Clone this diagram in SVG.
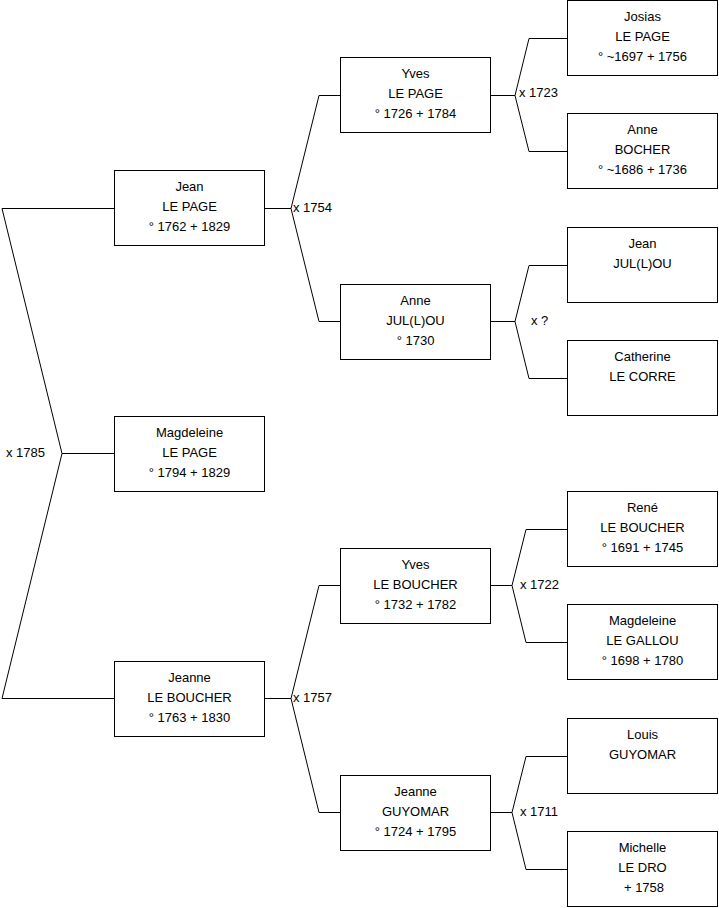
<svg xmlns="http://www.w3.org/2000/svg" width="719" height="908" viewBox="0 0 719 908">
<style>
.box{fill:#fff;stroke:#000;stroke-width:1}
.ln{fill:none;stroke:#000;stroke-width:1}
text{font-family:"Liberation Sans",Arial,sans-serif;font-size:13px;fill:#000}
.c{text-anchor:middle}
</style>
<rect width="719" height="908" fill="#fff"/>
<g id="connectors">
<polyline class="ln" points="114,208.5 2,208.5 62,453.5 2,698.5 114,698.5"/>
<line class="ln" x1="62" y1="453.5" x2="114" y2="453.5"/>
<line class="ln" x1="265" y1="208.5" x2="291" y2="208.5"/>
<polyline class="ln" points="340,95.5 319,95.5 291,208.5 319,321.5 340,321.5"/>
<line class="ln" x1="265" y1="698.5" x2="291" y2="698.5"/>
<polyline class="ln" points="340,585.5 319,585.5 291,698.5 319,812.5 340,812.5"/>
<line class="ln" x1="491" y1="95.5" x2="515" y2="95.5"/>
<polyline class="ln" points="567,38.5 529,38.5 515,95.5 529,151.5 567,151.5"/>
<line class="ln" x1="491" y1="321.5" x2="515" y2="321.5"/>
<polyline class="ln" points="567,265.5 529,265.5 515,321.5 529,378.5 567,378.5"/>
<line class="ln" x1="491" y1="585.5" x2="512" y2="585.5"/>
<polyline class="ln" points="567,529.5 526,529.5 512,585.5 526,642.5 567,642.5"/>
<line class="ln" x1="491" y1="812.5" x2="512" y2="812.5"/>
<polyline class="ln" points="567,756.5 526,756.5 512,812.5 526,869.5 567,869.5"/>
<text x="6" y="457">x 1785</text>
<text x="293" y="212">x 1754</text>
<text x="293" y="702">x 1757</text>
<text x="519" y="97">x 1723</text>
<text x="531" y="325">x ?</text>
<text x="520" y="589">x 1722</text>
<text x="520" y="816">x 1711</text>
</g>
<g id="jean">
<rect class="box" x="114.5" y="170.5" width="150" height="75"/>
<text class="c" x="189.5" y="191">Jean</text><text class="c" x="189.5" y="211">LE PAGE</text><text class="c" x="189.5" y="231">° 1762 + 1829</text>
</g>
<g id="magdeleine">
<rect class="box" x="114.5" y="416.5" width="150" height="75"/>
<text class="c" x="189.5" y="437">Magdeleine</text><text class="c" x="189.5" y="457">LE PAGE</text><text class="c" x="189.5" y="477">° 1794 + 1829</text>
</g>
<g id="jeanne">
<rect class="box" x="114.5" y="661.5" width="150" height="75"/>
<text class="c" x="189.5" y="682">Jeanne</text><text class="c" x="189.5" y="702">LE BOUCHER</text><text class="c" x="189.5" y="722">° 1763 + 1830</text>
</g>
<g id="yves-lepage">
<rect class="box" x="340.5" y="57.5" width="150" height="75"/>
<text class="c" x="415.5" y="78">Yves</text><text class="c" x="415.5" y="98">LE PAGE</text><text class="c" x="415.5" y="118">° 1726 + 1784</text>
</g>
<g id="anne-julou">
<rect class="box" x="340.5" y="284.5" width="150" height="75"/>
<text class="c" x="415.5" y="305">Anne</text><text class="c" x="415.5" y="325">JUL(L)OU</text><text class="c" x="415.5" y="345">° 1730</text>
</g>
<g id="yves-leboucher">
<rect class="box" x="340.5" y="548.5" width="150" height="75"/>
<text class="c" x="415.5" y="569">Yves</text><text class="c" x="415.5" y="589">LE BOUCHER</text><text class="c" x="415.5" y="609">° 1732 + 1782</text>
</g>
<g id="jeanne-guyomar">
<rect class="box" x="340.5" y="775.5" width="150" height="75"/>
<text class="c" x="415.5" y="796">Jeanne</text><text class="c" x="415.5" y="816">GUYOMAR</text><text class="c" x="415.5" y="836">° 1724 + 1795</text>
</g>
<g id="josias">
<rect class="box" x="567.5" y="0.5" width="150" height="75"/>
<text class="c" x="642.5" y="21">Josias</text><text class="c" x="642.5" y="41">LE PAGE</text><text class="c" x="642.5" y="61">° ~1697 + 1756</text>
</g>
<g id="anne-bocher">
<rect class="box" x="567.5" y="113.5" width="150" height="75"/>
<text class="c" x="642.5" y="134">Anne</text><text class="c" x="642.5" y="154">BOCHER</text><text class="c" x="642.5" y="174">° ~1686 + 1736</text>
</g>
<g id="jean-julou">
<rect class="box" x="567.5" y="227.5" width="150" height="75"/>
<text class="c" x="642.5" y="248">Jean</text><text class="c" x="642.5" y="268">JUL(L)OU</text>
</g>
<g id="catherine">
<rect class="box" x="567.5" y="340.5" width="150" height="75"/>
<text class="c" x="642.5" y="361">Catherine</text><text class="c" x="642.5" y="381">LE CORRE</text>
</g>
<g id="rene">
<rect class="box" x="567.5" y="491.5" width="150" height="75"/>
<text class="c" x="642.5" y="512">René</text><text class="c" x="642.5" y="532">LE BOUCHER</text><text class="c" x="642.5" y="552">° 1691 + 1745</text>
</g>
<g id="magdeleine-gallou">
<rect class="box" x="567.5" y="604.5" width="150" height="75"/>
<text class="c" x="642.5" y="625">Magdeleine</text><text class="c" x="642.5" y="645">LE GALLOU</text><text class="c" x="642.5" y="665">° 1698 + 1780</text>
</g>
<g id="louis">
<rect class="box" x="567.5" y="718.5" width="150" height="75"/>
<text class="c" x="642.5" y="739">Louis</text><text class="c" x="642.5" y="759">GUYOMAR</text>
</g>
<g id="michelle">
<rect class="box" x="567.5" y="831.5" width="150" height="75"/>
<text class="c" x="642.5" y="852">Michelle</text><text class="c" x="642.5" y="872">LE DRO</text><text class="c" x="644" y="892">+ 1758</text>
</g>
</svg>
